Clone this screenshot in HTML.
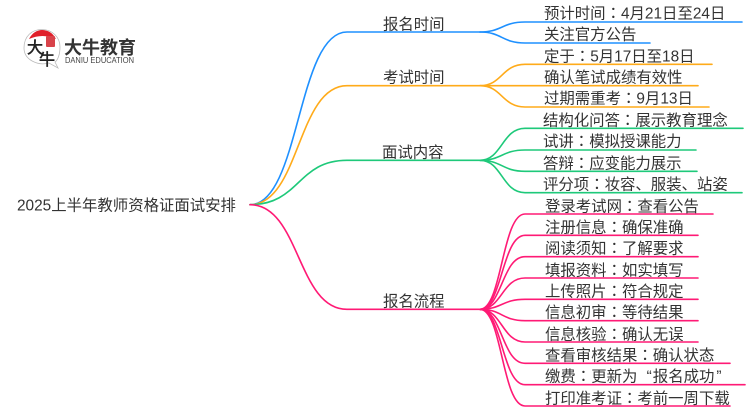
<!DOCTYPE html>
<html><head><meta charset="utf-8"><style>
html,body{margin:0;padding:0;background:#fff;width:750px;height:410px;overflow:hidden}
svg{display:block}
text{font-family:"Liberation Sans","WenQuanYi Zen Hei","Noto Sans CJK SC",sans-serif;font-size:15.4px;fill:#333}
.t text{filter:blur(.25px)}
tspan.c{font-family:"Noto Sans CJK TC",sans-serif}
path{fill:none;stroke-width:1.6;stroke-linecap:round}
.b path{stroke:#1e90ff}.o path{stroke:#ffab1a}.g path{stroke:#1ec97a}.p path{stroke:#ff1a75}
</style></head><body>
<svg width="750" height="410" viewBox="0 0 750 410" xmlns="http://www.w3.org/2000/svg">
<g class="b">
<path d="M250 204.7C300 204.7 297 32 347 32H480"/>
<path d="M480 32C502 32 502 22 525 22H742"/>
<path d="M480 32C502 32 502 43 525 43H650"/>
</g>
<g class="o">
<path d="M250 204.7C300 204.7 297 85.7 347 85.7H480"/>
<path d="M480 85.7C502 85.7 502 64.3 525 64.3H712"/>
<path d="M480 85.7H698"/>
<path d="M480 85.7C502 85.7 502 107 525 107H709"/>
</g>
<g class="g">
<path d="M250 204.7C300 204.7 297 160.3 347 160.3H480"/>
<path d="M480 160.3C502 160.3 502 128.3 525 128.3H743"/>
<path d="M480 160.3C502 160.3 502 150 525 150H696"/>
<path d="M480 160.3C502 160.3 502 171.3 525 171.3H697"/>
<path d="M480 160.3C502 160.3 502 192.7 525 192.7H742"/>
</g>
<g class="p">
<path d="M250 204.7C300 204.7 297 309.3 347 309.3H480"/>
<path d="M480 309.3C502 309.3 502 214 525 214H713"/>
<path d="M480 309.3C502 309.3 502 235.3 525 235.3H698"/>
<path d="M480 309.3C502 309.3 502 256.7 525 256.7H698"/>
<path d="M480 309.3C502 309.3 502 278 525 278H698"/>
<path d="M480 309.3C502 309.3 502 299.3 525 299.3H698"/>
<path d="M480 309.3C502 309.3 502 320.7 525 320.7H698"/>
<path d="M480 309.3C502 309.3 502 342 525 342H698"/>
<path d="M480 309.3C502 309.3 502 363.3 525 363.3H730"/>
<path d="M480 309.3C502 309.3 502 384.7 525 384.7H745"/>
<path d="M480 309.3C502 309.3 502 406 525 406H730"/>
</g>

<g class="t" transform="translate(0,-.5)">
<text x="17" y="211">2025上半年教师资格证面试安排</text>
<text x="383" y="30">报名时间</text>
<text x="383" y="83">考试时间</text>
<text x="382" y="158">面试内容</text>
<text x="383" y="307">报名流程</text>

<text x="544" y="19">预计时间<tspan class="c">：</tspan>4月21日至24日</text>
<text x="544" y="40">关注官方公告</text>
<text x="544" y="62">定于<tspan class="c">：</tspan>5月17日至18日</text>
<text x="544" y="83">确认笔试成绩有效性</text>
<text x="544" y="104">过期需重考<tspan class="c">：</tspan>9月13日</text>
<text x="543" y="126">结构化问答<tspan class="c">：</tspan>展示教育理念</text>
<text x="543" y="147">试讲<tspan class="c">：</tspan>模拟授课能力</text>
<text x="543" y="169">答辩<tspan class="c">：</tspan>应变能力展示</text>
<text x="543" y="190">评分项<tspan class="c">：</tspan>妆容、服装、站姿</text>
<text x="545" y="212">登录考试网<tspan class="c">：</tspan>查看公告</text>
<text x="545" y="233">注册信息<tspan class="c">：</tspan>确保准确</text>
<text x="545" y="254">阅读须知<tspan class="c">：</tspan>了解要求</text>
<text x="545" y="276">填报资料<tspan class="c">：</tspan>如实填写</text>
<text x="545" y="297">上传照片<tspan class="c">：</tspan>符合规定</text>
<text x="545" y="318">信息初审<tspan class="c">：</tspan>等待结果</text>
<text x="545" y="340">信息核验<tspan class="c">：</tspan>确认无误</text>
<text x="545" y="361">查看审核结果<tspan class="c">：</tspan>确认状态</text>
<text x="545" y="382">缴费<tspan class="c">：</tspan>更新为 <tspan dx="5">“</tspan><tspan dx="1">报名成功</tspan><tspan dx="2">”</tspan></text>
<text x="545" y="404">打印准考证<tspan class="c">：</tspan>考前一周下载</text>
</g>

<!-- logo -->
<path d="M49 63C38 66 24 60 24 48C24 36 32 29.500 42 29.500C52 29.500 60 37 60 47C60 54 58 60 55 62L58 68Z" style="fill:#fff;stroke:#bbb;stroke-width:.8"/>
<path d="M29 39C32 33 37 30 42 30C48 30 53 33 56 39C47 35 38 35 29 39Z" style="fill:#e0202a;stroke:none"/>
<rect x="46" y="36" width="9" height="11" rx="1" fill="#d8434a"/>
<text x="27" y="53" style="font-size:16px;fill:#222;stroke:#222;stroke-width:.5">大</text>
<text x="39" y="65" style="font-size:16px;fill:#222;stroke:#222;stroke-width:.5">牛</text>
<text x="64" y="54" style="font-size:18px;font-weight:bold;fill:#333">大牛教育</text>
<text x="65" y="63" textLength="69" lengthAdjust="spacingAndGlyphs" style="font-size:8px;fill:#444">DANIU EDUCATION</text>
</svg>
</body></html>
